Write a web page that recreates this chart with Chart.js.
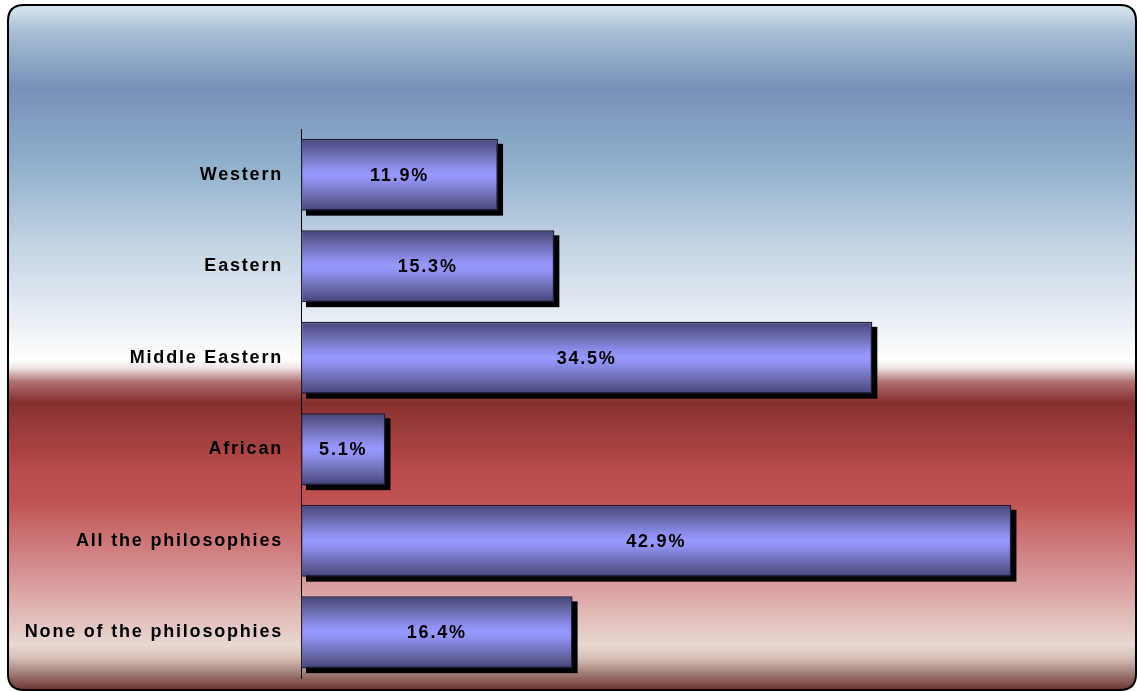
<!DOCTYPE html>
<html>
<head>
<meta charset="utf-8">
<script src="https://cdn.jsdelivr.net/npm/chart.js@4"></script>
<style>
html,body{margin:0;padding:0;background:#fff;}
#wrap{width:1137px;height:692px;position:relative;}
</style>
</head>
<body>
<div id="wrap"><canvas id="c" width="1137" height="692"></canvas></div>
<script>
const categories = ["Western", "Eastern", "Middle Eastern", "African", "All the philosophies", "None of the philosophies"];
const values = [11.9, 15.3, 34.5, 5.1, 42.9, 16.4];
const valueLabels = ["11.9%", "15.3%", "34.5%", "5.1%", "42.9%", "16.4%"];

const FONT = "'Liberation Sans', Arial, sans-serif";
const SPACING = '1.8px';

const bgPlugin = {
  id: 'bg',
  beforeDraw(chart) {
    const ctx = chart.ctx;
    ctx.save();
    const x = 8, y = 5, w = 1128, h = 685, r = 16;
    ctx.beginPath();
    ctx.moveTo(x + r, y);
    ctx.lineTo(x + w - r, y);
    ctx.quadraticCurveTo(x + w, y, x + w, y + r);
    ctx.lineTo(x + w, y + h - r);
    ctx.quadraticCurveTo(x + w, y + h, x + w - r, y + h);
    ctx.lineTo(x + r, y + h);
    ctx.quadraticCurveTo(x, y + h, x, y + h - r);
    ctx.lineTo(x, y + r);
    ctx.quadraticCurveTo(x, y, x + r, y);
    ctx.closePath();
    const g = ctx.createLinearGradient(0, y, 0, y + h);
    const s = (py) => (py - y) / h;
    g.addColorStop(0, '#d8e7f1');
    g.addColorStop(s(30), '#a8c1d6');
    g.addColorStop(s(88), '#7890b8');
    g.addColorStop(s(160), '#8eaecb');
    g.addColorStop(s(250), '#c6d6e5');
    g.addColorStop(s(330), '#eef2f7');
    g.addColorStop(s(360), '#ffffff');
    g.addColorStop(s(368), '#efe2e2');
    g.addColorStop(s(382), '#b07070');
    g.addColorStop(s(402), '#873030');
    g.addColorStop(s(470), '#b84b4b');
    g.addColorStop(s(500), '#c05252');
    g.addColorStop(s(580), '#d8999a');
    g.addColorStop(s(645), '#e9d8d2');
    g.addColorStop(s(658), '#d5c0b8');
    g.addColorStop(1, '#6a3330');
    ctx.fillStyle = g;
    ctx.fill();
    ctx.lineWidth = 2;
    ctx.strokeStyle = '#000';
    ctx.stroke();
    ctx.restore();
    ctx.letterSpacing = SPACING;
  }
};

const shadowPlugin = {
  id: 'shadow',
  beforeDatasetsDraw(chart) {
    const ctx = chart.ctx;
    const meta = chart.getDatasetMeta(0);
    ctx.save();
    ctx.fillStyle = '#000';
    meta.data.forEach((bar) => {
      const left = Math.min(bar.base, bar.x);
      const w = Math.abs(bar.x - bar.base);
      const top = bar.y - bar.height / 2;
      ctx.fillRect(left + 5, top + 5, w, bar.height);
    });
    ctx.restore();
  },
  afterDatasetsDraw(chart) {
    const ctx = chart.ctx;
    const meta = chart.getDatasetMeta(0);
    ctx.save();
    ctx.letterSpacing = SPACING;
    ctx.font = 'bold 18px ' + FONT;
    ctx.fillStyle = '#000';
    ctx.textAlign = 'center';
    ctx.textBaseline = 'middle';
    meta.data.forEach((bar, i) => {
      const cx = (bar.base + bar.x) / 2;
      ctx.fillText(valueLabels[i], cx, bar.y + 1);
    });
    ctx.restore();
  }
};

function barGradient(context) {
  const chart = context.chart;
  const ys = chart.scales.y;
  if (!ys || ys.top === undefined) return '#9999ff';
  const cy = ys.getPixelForValue(context.dataIndex);
  const half = 36;
  const g = chart.ctx.createLinearGradient(0, cy - half, 0, cy + half);
  g.addColorStop(0, '#44447a');
  g.addColorStop(0.18, '#6767a8');
  g.addColorStop(0.42, '#9090f0');
  g.addColorStop(0.5, '#9898ff');
  g.addColorStop(0.58, '#9090f0');
  g.addColorStop(0.82, '#6767a8');
  g.addColorStop(1, '#44447a');
  return g;
}

new Chart(document.getElementById('c'), {
  type: 'bar',
  data: {
    labels: categories,
    datasets: [{
      data: values,
      backgroundColor: barGradient,
      borderColor: '#1c1c38',
      borderWidth: 1.5,
      borderSkipped: false,
      categoryPercentage: 1,
      barPercentage: 0.785
    }]
  },
  options: {
    indexAxis: 'y',
    responsive: false,
    animation: false,
    devicePixelRatio: 1,
    layout: { padding: { top: 129, bottom: 14, right: 8, left: 0 } },
    plugins: { legend: { display: false }, tooltip: { enabled: false } },
    scales: {
      x: {
        display: false,
        min: 0,
        max: 50
      },
      y: {
        afterFit(scale) { scale.width = 301; scale.paddingTop = 0; scale.paddingBottom = 0; },
        grid: { display: false, drawTicks: false },
        border: { display: true, color: '#000', width: 1 },
        ticks: {
          color: '#000',
          padding: 18,
          font: { family: FONT, size: 18, weight: 'bold' }
        }
      }
    }
  },
  plugins: [bgPlugin, shadowPlugin]
});
</script>
</body>
</html>
